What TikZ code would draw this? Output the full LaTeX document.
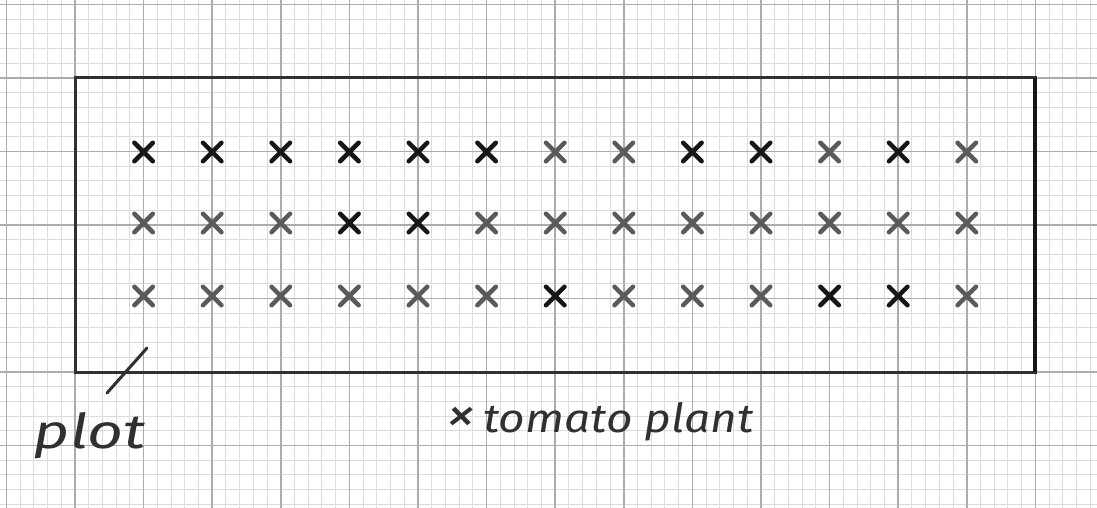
\documentclass[tikz,border=0pt]{standalone}
\usepackage{fontspec}
\setmainfont{Fira Sans}
\usetikzlibrary{shapes.misc, positioning}
\definecolor{gridminor}{RGB}{220,220,220}
\definecolor{gridmajor}{RGB}{172,172,172}
\definecolor{pencil}{RGB}{48,48,48}
\definecolor{inkdark}{RGB}{22,22,22}
\definecolor{inkgray}{RGB}{90,90,90}

\tikzset{
  plant/.style={cross out, draw, minimum size=14pt, inner sep=0pt, line width=4.5pt, line cap=round},
  hand/.style={font=\fontsize{40}{40}\selectfont\itshape, text=pencil, inner sep=0pt}
}

\begin{document}
\begin{tikzpicture}[x=1pt, y=-1pt]
  \useasboundingbox (0,0) rectangle (1097,508);
  \fill[white] (0,0) rectangle (1097,508);

  % graph paper
  \foreach \i in {0,...,80}
    \draw[gridminor, line width=1pt] (6.4+13.72*\i,0) -- (6.4+13.72*\i,508);
  \foreach \j in {0,...,34}
    \draw[gridminor, line width=1pt] (0,4.5+14.7*\j) -- (1097,4.5+14.7*\j);
  \foreach \i in {0,...,16}
    \draw[gridmajor, line width=1.7pt] (6.4+68.6*\i,0) -- (6.4+68.6*\i,508);
  \foreach \j in {0,...,6}
    \draw[gridmajor, line width=1.7pt] (0,4.5+73.5*\j) -- (1097,4.5+73.5*\j);

  % plot outline
  \draw[pencil, line width=3pt] (75,78) rectangle (1035,372);
  \draw[inkdark, line width=4pt] (1035,78) -- (1035,372);

  % tomato plants
  \foreach \c/\ink in {0/inkdark, 1/inkdark, 2/inkdark, 3/inkdark, 4/inkdark, 5/inkdark,
      6/inkgray, 7/inkgray, 8/inkdark, 9/inkdark, 10/inkgray, 11/inkdark, 12/inkgray}
    \node[plant, draw=\ink] (p1-\c) at (143.6+68.6*\c,152) {};
  \foreach \c/\ink in {0/inkgray, 1/inkgray, 2/inkgray, 3/inkdark, 4/inkdark, 5/inkgray,
      6/inkgray, 7/inkgray, 8/inkgray, 9/inkgray, 10/inkgray, 11/inkgray, 12/inkgray}
    \node[plant, draw=\ink] (p2-\c) at (143.6+68.6*\c,223) {};
  \foreach \c/\ink in {0/inkgray, 1/inkgray, 2/inkgray, 3/inkgray, 4/inkgray, 5/inkgray,
      6/inkdark, 7/inkgray, 8/inkgray, 9/inkgray, 10/inkdark, 11/inkdark, 12/inkgray}
    \node[plant, draw=\ink] (p3-\c) at (143.6+68.6*\c,296) {};

  % labels
  \coordinate (tickfoot) at (107,393);
  \coordinate (tickhead) at (147,348);
  \draw[pencil, line width=3pt, line cap=round] (tickfoot) -- (tickhead);
  \node[hand, font=\fontsize{48}{48}\selectfont\itshape, xscale=1.3] (plotlabel) at (90,436) {plot};
  \node[hand, xscale=1.15, anchor=west] (plantlabel) at (446,422)
    {{\fontsize{52}{52}\selectfont ×}\,tomato plant};
\end{tikzpicture}
\end{document}
